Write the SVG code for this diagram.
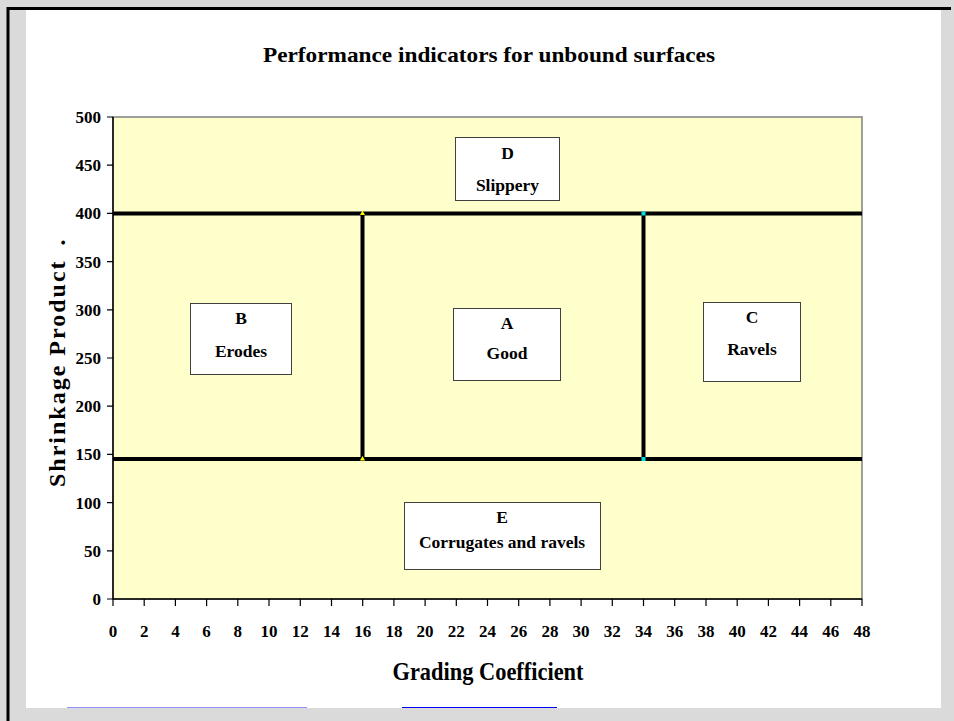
<svg xmlns="http://www.w3.org/2000/svg" width="954" height="721" viewBox="0 0 954 721" font-family="'Liberation Serif', 'DejaVu Serif', serif" font-weight="bold">
<defs>
<style>
.tk{font-size:17px}
.yl{text-anchor:end}
.xl{text-anchor:middle}
.bx rect{fill:#fff;stroke:#404040;stroke-width:1}
.bx text{font-size:17.5px;text-anchor:middle}
.zone{stroke:#000;stroke-width:4;fill:none}
</style>
</defs>
<rect x="0" y="0" width="954" height="721" fill="#dadada"/>
<rect x="26" y="10" width="915" height="698" fill="#fff"/>
<line x1="8" y1="8.5" x2="951" y2="8.5" stroke="#000" stroke-width="3"/>
<line x1="8" y1="7" x2="8" y2="721" stroke="#000" stroke-width="3"/>
<rect x="67" y="707" width="240" height="1" fill="#9090ff"/>
<rect x="402" y="707" width="155" height="1" fill="#0000ff"/>

<text x="489" y="62" font-size="22" text-anchor="middle" textLength="452" lengthAdjust="spacingAndGlyphs">Performance indicators for unbound surfaces</text>

<g id="plot-area">
<rect x="113" y="117" width="749" height="482" fill="#ffffcc" stroke="#808080" stroke-width="1.5"/>
<line x1="113" y1="117" x2="113" y2="599" stroke="#000" stroke-width="1.5"/>
<line x1="113" y1="599" x2="862" y2="599" stroke="#000" stroke-width="1.5"/>
</g>

<g id="y-axis">
<path d="M107 117H113M107 165.2H113M107 213.4H113M107 261.6H113M107 309.8H113M107 358H113M107 406.2H113M107 454.4H113M107 502.6H113M107 550.8H113M107 599H113" stroke="#000" stroke-width="1.2"/>
<g class="tk yl">
<text x="101" y="123">500</text>
<text x="101" y="171">450</text>
<text x="101" y="219">400</text>
<text x="101" y="268">350</text>
<text x="101" y="316">300</text>
<text x="101" y="364">250</text>
<text x="101" y="412">200</text>
<text x="101" y="460">150</text>
<text x="101" y="509">100</text>
<text x="101" y="557">50</text>
<text x="101" y="605">0</text>
</g>
<text transform="translate(65,487) rotate(-90)" font-size="24" letter-spacing="2">Shrinkage Product<tspan dx="14">.</tspan></text>
</g>

<g id="x-axis">
<path d="M113 599V606M144.2 599V606M175.4 599V606M206.6 599V606M237.8 599V606M269 599V606M300.3 599V606M331.5 599V606M362.7 599V606M393.9 599V606M425.1 599V606M456.3 599V606M487.5 599V606M518.7 599V606M549.9 599V606M581.1 599V606M612.3 599V606M643.5 599V606M674.7 599V606M706 599V606M737.2 599V606M768.4 599V606M799.6 599V606M830.8 599V606M862 599V606" stroke="#000" stroke-width="1.2"/>
<g class="tk xl">
<text x="113" y="637">0</text>
<text x="144.2" y="637">2</text>
<text x="175.4" y="637">4</text>
<text x="206.6" y="637">6</text>
<text x="237.8" y="637">8</text>
<text x="269" y="637">10</text>
<text x="300.3" y="637">12</text>
<text x="331.5" y="637">14</text>
<text x="362.7" y="637">16</text>
<text x="393.9" y="637">18</text>
<text x="425.1" y="637">20</text>
<text x="456.3" y="637">22</text>
<text x="487.5" y="637">24</text>
<text x="518.7" y="637">26</text>
<text x="549.9" y="637">28</text>
<text x="581.1" y="637">30</text>
<text x="612.3" y="637">32</text>
<text x="643.5" y="637">34</text>
<text x="674.7" y="637">36</text>
<text x="706" y="637">38</text>
<text x="737.2" y="637">40</text>
<text x="768.4" y="637">42</text>
<text x="799.6" y="637">44</text>
<text x="830.8" y="637">46</text>
<text x="862" y="637">48</text>
</g>
<text x="488" y="680" font-size="25" text-anchor="middle" textLength="191" lengthAdjust="spacingAndGlyphs">Grading Coefficient</text>
</g>

<g id="connectors">
<line class="zone" x1="113" y1="213.5" x2="862" y2="213.5"/>
<line class="zone" x1="113" y1="459" x2="862" y2="459"/>
<line class="zone" x1="362.5" y1="213.5" x2="362.5" y2="459"/>
<line class="zone" x1="643.5" y1="213.5" x2="643.5" y2="459"/>
<path d="M362.5 210.5L365 215H360Z" fill="#ffff00"/>
<path d="M362.5 456L365 460.5H360Z" fill="#ffff00"/>
<rect x="641.5" y="211.5" width="4" height="4" fill="#00e0e0"/>
<rect x="641.5" y="457" width="4" height="4" fill="#00e0e0"/>
</g>

<g id="node-D" class="bx">
<rect x="455.5" y="137.5" width="104" height="63"/>
<text x="507.5" y="159">D</text>
<text x="507.5" y="191">Slippery</text>
</g>
<g id="node-B" class="bx">
<rect x="190.5" y="303.5" width="101" height="71"/>
<text x="241" y="324">B</text>
<text x="241" y="357">Erodes</text>
</g>
<g id="node-A" class="bx">
<rect x="453.5" y="308.5" width="107" height="72"/>
<text x="507" y="329">A</text>
<text x="507" y="359">Good</text>
</g>
<g id="node-C" class="bx">
<rect x="703.5" y="302.5" width="97" height="79"/>
<text x="752" y="323">C</text>
<text x="752" y="355">Ravels</text>
</g>
<g id="node-E" class="bx">
<rect x="404.5" y="502.5" width="196" height="67"/>
<text x="502" y="523">E</text>
<text x="502" y="548">Corrugates and ravels</text>
</g>
</svg>
